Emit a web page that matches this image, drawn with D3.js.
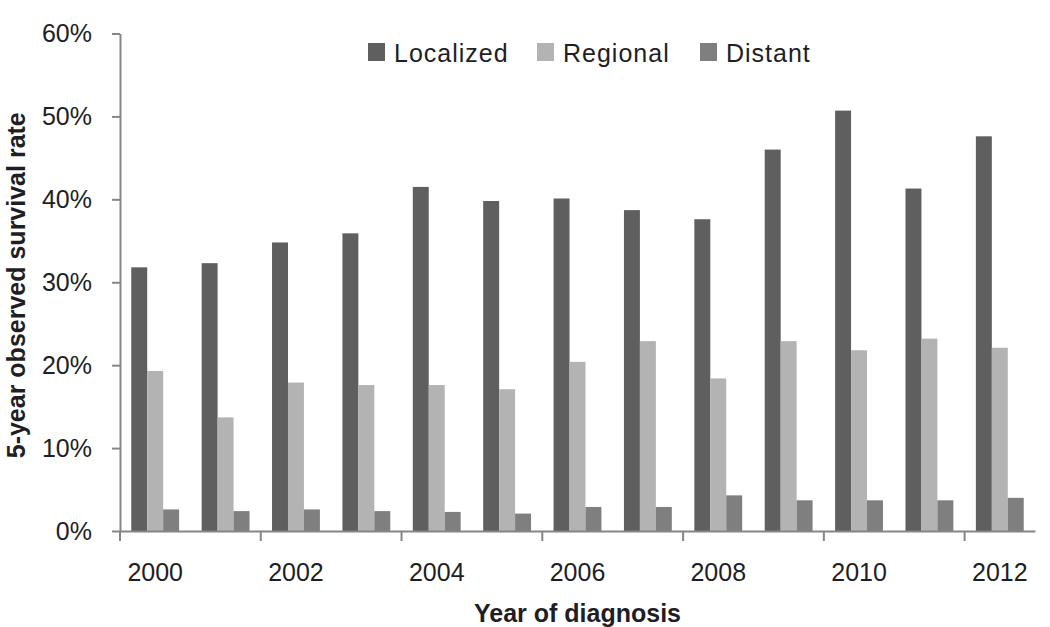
<!DOCTYPE html>
<html>
<head>
<meta charset="utf-8">
<script src="https://cdn.jsdelivr.net/npm/d3@7"></script>
<style>
  body { margin: 0; background: #fff; }
  text { font-family: "Liberation Sans", Arial, sans-serif; fill: #1e1e24; }
</style>
</head>
<body>
<svg id="chart" width="1050" height="627"></svg>
<script>
const years = ["2000","2001","2002","2003","2004","2005","2006","2007","2008","2009","2010","2011","2012"];
const series = ["Localized", "Regional", "Distant"];
const localized = [31.8, 32.3, 34.8, 35.9, 41.5, 39.8, 40.1, 38.7, 37.6, 46.0, 50.7, 41.3, 47.6];
const regional  = [19.3, 13.7, 17.9, 17.6, 17.6, 17.1, 20.4, 22.9, 18.4, 22.9, 21.8, 23.2, 22.1];
const distant   = [2.6, 2.4, 2.6, 2.4, 2.3, 2.1, 2.9, 2.9, 4.3, 3.7, 3.7, 3.7, 4.0];
const yTicks = [0, 10, 20, 30, 40, 50, 60];
const xLabels = ["2000","2002","2004","2006","2008","2010","2012"];
const colors = ["#5f5f5f", "#b3b3b3", "#7f7f7f"];

const values = [localized, regional, distant];
const svg = d3.select("#chart");
const margin = {top: 33.5, right: 15, bottom: 96, left: 120};
const width = 1050 - margin.left - margin.right,
      height = 627 - margin.top - margin.bottom;

const g = svg.append("g")
    .attr("transform", "translate(" + margin.left + "," + margin.top + ")");

const x = d3.scaleBand()
    .domain(years)
    .range([0, width])
    .paddingInner(0.32)
    .paddingOuter(0.16);
const xSub = d3.scaleBand()
    .domain(series)
    .range([0, x.bandwidth()]);
const y = d3.scaleLinear()
    .domain([0, 60])
    .range([height, 0]);

// bars
years.forEach(function(yr, i) {
    series.forEach(function(s, j) {
        g.append("rect")
            .attr("x", x(yr) + xSub(s))
            .attr("width", xSub.bandwidth())
            .attr("y", y(values[j][i]))
            .attr("height", height - y(values[j][i]))
            .attr("fill", colors[j]);
    });
});

// y axis
const yAxis = g.append("g")
    .call(d3.axisLeft(y)
        .tickValues(yTicks)
        .tickFormat(d => d + "%")
        .tickSize(8)
        .tickSizeOuter(0)
        .tickPadding(20));
yAxis.selectAll("text").style("font-size", "25px").attr("fill", "#1e1e24");

// x axis: labels at category centres, tick marks every two categories
const xAxis = g.append("g")
    .attr("transform", "translate(0," + height + ")")
    .call(d3.axisBottom(x)
        .tickValues(xLabels)
        .tickSize(0)
        .tickSizeOuter(0)
        .tickPadding(32));
xAxis.selectAll("text").style("font-size", "25px").attr("fill", "#1e1e24");
for (let i = 0; i < years.length; i += 2) {
    xAxis.append("line")
        .attr("x1", x.step() * i).attr("x2", x.step() * i)
        .attr("y1", 0).attr("y2", 10)
        .attr("stroke", "#868686").attr("stroke-width", 2);
}

svg.selectAll(".domain, .tick line").attr("stroke", "#868686").attr("stroke-width", 2);

// axis titles
svg.append("text")
    .attr("x", margin.left + width / 2)
    .attr("y", 622)
    .attr("text-anchor", "middle")
    .style("font-size", "25px")
    .style("font-weight", "bold")
    .text("Year of diagnosis");

svg.append("text")
    .attr("transform", "translate(25," + (margin.top + height / 2 + 3) + ") rotate(-90)")
    .attr("text-anchor", "middle")
    .style("font-size", "25px")
    .style("font-weight", "bold")
    .text("5-year observed survival rate");

// legend
const legendX = [368, 537, 700];
series.forEach(function(s, j) {
    svg.append("rect")
        .attr("x", legendX[j]).attr("y", 43)
        .attr("width", 17).attr("height", 18)
        .attr("fill", colors[j]);
    svg.append("text")
        .attr("x", legendX[j] + 26).attr("y", 62)
        .style("font-size", "25px")
        .style("letter-spacing", "1px")
        .text(s);
});
</script>
</body>
</html>
